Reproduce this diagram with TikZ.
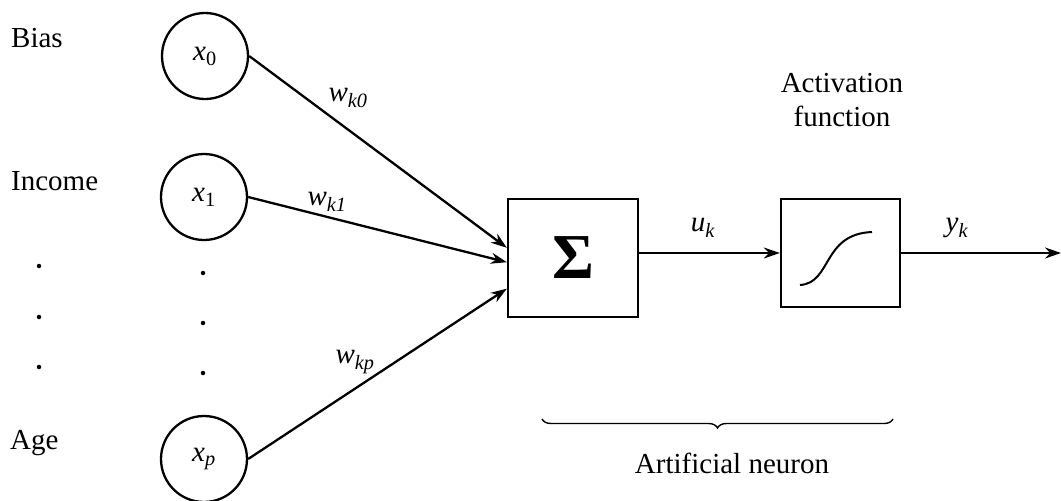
\documentclass[tikz,border=0pt]{standalone}
\usepackage{fontspec}
\setmainfont{Liberation Serif}
\usetikzlibrary{arrows.meta,decorations.pathreplacing,calc}
\newcommand\symv[2]{\textit{#1}\textsubscript{#2}}
\begin{document}
\begin{tikzpicture}[x=1pt,y=-1pt,
  font=\fontsize{29}{34}\selectfont,
  inp/.style={circle,draw,line width=2.3pt,minimum size=86pt,inner sep=0pt},
  blk/.style={draw,line width=2.3pt,inner sep=0pt},
  conn/.style={line width=2.3pt,-{Stealth[length=16pt,width=11pt]}},
  lbl/.style={inner sep=0pt},
  dotm/.style={circle,fill,inner sep=0pt,minimum size=4.5pt}]
\useasboundingbox (0,0) rectangle (1061,501);

% input labels
\node[lbl,anchor=west] (bias) at (11,38) {Bias};
\node[lbl,anchor=west] (income) at (11,181) {Income};
\node[lbl,anchor=west] (age) at (10,443) {Age};

% dots
\foreach \y [count=\i] in {266,317,367}{\node[dotm] (ld\i) at (39,\y) {};}
\foreach \y [count=\i] in {273,323,373}{\node[dotm] (md\i) at (203,\y) {};}

% inputs
\node[inp] (x0) at (205,56) {\symv{x}{0}};
\node[inp] (x1) at (204,197) {\symv{x}{1}};
\node[inp] (xp) at (204,459) {\symv{x}{\textit{p}}};

% blocks
\node[blk,minimum width=130pt,minimum height=118pt] (sig) at (573,258)
  {\fontsize{64}{64}\selectfont\bfseries Σ};
\node[blk,minimum width=119pt,minimum height=108pt] (act) at (840.5,253) {};

\coordinate (in0) at ($(sig.north west)!0.415!(sig.south west)$);
\coordinate (in1) at ($(sig.north west)!0.535!(sig.south west)$);
\coordinate (inp) at ($(sig.north west)!0.755!(sig.south west)$);
\coordinate (out) at (1061,253);

\draw[conn] (x0.east) -- (in0);
\draw[conn] (x1.east) -- (in1);
\draw[conn] (xp.east) -- (inp);
\draw[conn] (sig.east |- act.west) -- (act.west);
\draw[conn] (act.east) -- (out);

% weights
\node[lbl] (wk0) at (348,98) {\symv{w}{\textit{k0}}};
\node[lbl] (wk1) at (327,202) {\symv{w}{\textit{k1}}};
\node[lbl] (wkp) at (355,362) {\symv{w}{\textit{kp}}};
\node[lbl] (uk) at (703,228) {\symv{u}{\textit{k}}};
\node[lbl] (yk) at (957,228) {\symv{y}{\textit{k}}};

% sigmoid
\draw[line width=2pt] (800,285) .. controls (832,283) and (822,234) .. (872,232);

% activation label
\node[lbl,align=center] (actlbl) at (842,100) {Activation\\function};

% brace
\draw[line width=1.4pt,decorate,decoration={brace,amplitude=9pt,mirror}]
  (542,419) -- (893,419);
\node[lbl] (neuron) at (732,463) {Artificial neuron};
\end{tikzpicture}
\end{document}
